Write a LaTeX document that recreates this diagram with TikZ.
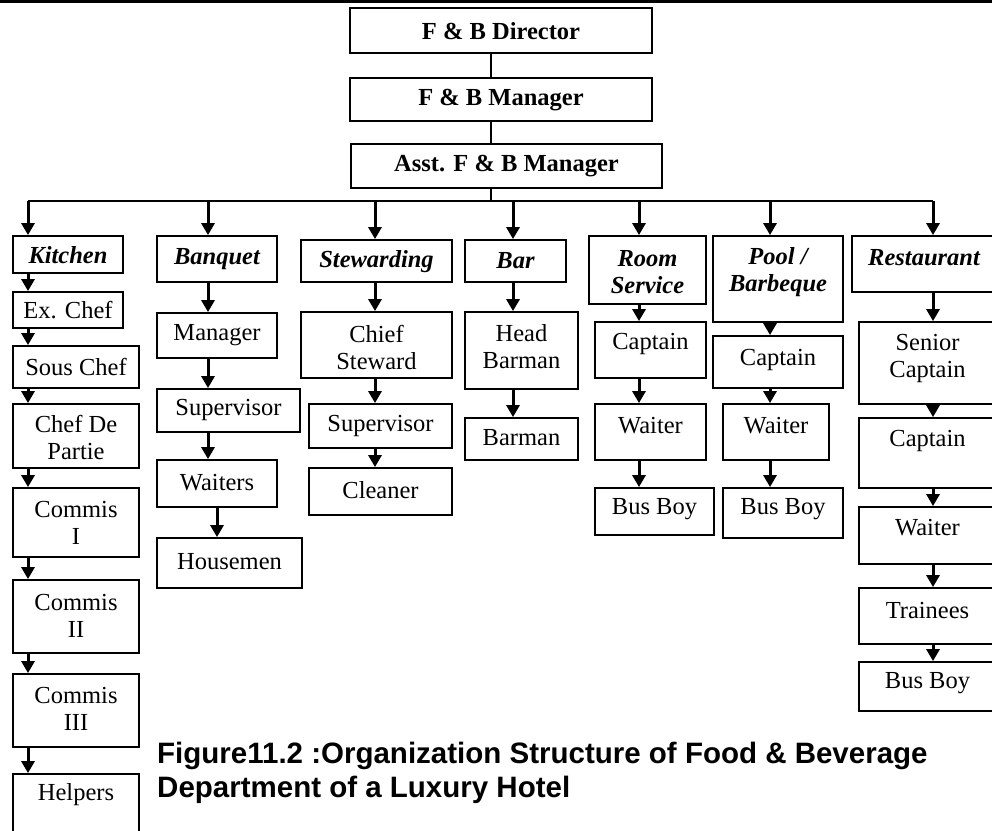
\documentclass[tikz,border=0pt]{standalone}
\usepackage{fontspec}
\setmainfont{Liberation Serif}
\newfontfamily\capfont{Liberation Sans}
\usetikzlibrary{arrows.meta}

% box with a separately placed label: [style]{name}{x1}{y1}{x2}{y2}{label y}{text}
\newcommand\obox[8][lbl]{%
  \node[box, minimum width={#5-#3}, minimum height={#6-#4}] (#2) at ({(#3+#5)/2},{(#4+#6)/2}) {};
  \node[#1] (#2-t) at ({(#3+#5)/2},#7) {#8};}

\tikzset{
  box/.style={draw, line width=1.8pt, inner sep=0pt},
  lbl/.style={inner sep=0pt, align=center, font=\fontsize{24.5}{27}\selectfont},
  dept/.style={lbl, font=\fontsize{24.5}{27}\selectfont\bfseries\itshape},
  chief/.style={lbl, font=\fontsize{24.5}{27}\selectfont\bfseries},
  arr/.style={line width=3pt, -{Triangle[length=12pt,width=13pt]}},
  thin/.style={line width=1.4pt},
  caption/.style={inner sep=0pt, anchor=base west, font=\capfont\bfseries\fontsize{29.5}{32}\selectfont}
}

\begin{document}
\begin{tikzpicture}[x=1pt,y=-1pt]
\useasboundingbox (0,0) rectangle (992,830);
\clip (0,0) rectangle (992,830);

% rule across the top
\draw[line width=3pt] (0,1.5) -- (992,1.5);

% top management
\obox[chief]{dir}{350}{8}{652}{53}{31}{F \& B Director}
\obox[chief]{mgr}{350}{78}{652}{121}{100}{F \& B Manager}
\obox[chief]{asst}{351}{144}{662}{188}{166}{Asst. F \& B Manager}

% drop points on the distribution line
\coordinate (trunk) at (491,201);
\coordinate (dK) at (28,201);
\coordinate (dB) at (208,201);
\coordinate (dS) at (375,201);
\coordinate (dBar) at (513,201);
\coordinate (dRS) at (639,201);
\coordinate (dP) at (770,201);
\coordinate (dR) at (933,201);
\coordinate (dH) at (217,201);

\draw[thin] (dir.south -| trunk) -- (mgr.north -| trunk);
\draw[thin] (mgr.south -| trunk) -- (asst.north -| trunk);
\draw[thin] (asst.south -| trunk) -- (trunk);
\draw[thin] (dK) -- (dR);

% Kitchen
\obox[dept]{kit}{13}{236}{123}{273}{255}{Kitchen}
\obox{exc}{13}{292}{123}{328}{310}{Ex. Chef}
\obox{sous}{13}{346}{139}{388}{367}{Sous Chef}
\obox{cdp}{13}{404}{139}{468}{437}{Chef De\\Partie}
\obox{comA}{13}{488}{139}{557}{523}{Commis\\I}
\obox{comB}{13}{580}{139}{653}{616}{Commis\\II}
\obox{comC}{13}{674}{139}{747}{709}{Commis\\III}
\obox{help}{13}{774}{139}{845}{795}{Helpers}
\draw[arr] (dK) -- (kit.north -| dK);
\draw[arr] (kit.south -| dK) -- (exc.north -| dK);
\draw[arr] (exc.south -| dK) -- (sous.north -| dK);
\draw[arr] (sous.south -| dK) -- (cdp.north -| dK);
\draw[arr] (cdp.south -| dK) -- (comA.north -| dK);
\draw[arr] (comA.south -| dK) -- (comB.north -| dK);
\draw[arr] (comB.south -| dK) -- (comC.north -| dK);
\draw[arr] (comC.south -| dK) -- (help.north -| dK);

% Banquet
\obox[dept]{banq}{157}{236}{277}{282}{259}{Banquet}
\obox{bman}{157}{313}{277}{358}{335}{Manager}
\obox{bsup}{157}{389}{300}{432}{410}{Supervisor}
\obox{bwait}{157}{460}{277}{507}{483}{Waiters}
\obox{bhouse}{157}{538}{302}{588}{562}{Housemen}
\draw[arr] (dB) -- (banq.north -| dB);
\draw[arr] (banq.south -| dB) -- (bman.north -| dB);
\draw[arr] (bman.south -| dB) -- (bsup.north -| dB);
\draw[arr] (bsup.south -| dB) -- (bwait.north -| dB);
\draw[arr] (bwait.south -| dH) -- (bhouse.north -| dH);

% Stewarding
\obox[dept]{stew}{301}{240}{452}{282}{262}{Stewarding}
\obox{chst}{301}{312}{452}{378}{347}{Chief\\Steward}
\obox{ssup}{309}{404}{452}{448}{426}{Supervisor}
\obox{clean}{309}{468}{452}{515}{490}{Cleaner}
\draw[arr] (dS) -- (stew.north -| dS);
\draw[arr] (stew.south -| dS) -- (chst.north -| dS);
\draw[arr] (chst.south -| dS) -- (ssup.north -| dS);
\draw[arr] (ssup.south -| dS) -- (clean.north -| dS);

% Bar
\obox[dept]{bar}{465}{240}{566}{282}{261}{Bar}
\obox{hbar}{465}{312}{578}{389}{347}{Head\\Barman}
\obox{barman}{465}{418}{578}{460}{438}{Barman}
\draw[arr] (dBar) -- (bar.north -| dBar);
\draw[arr] (bar.south -| dBar) -- (hbar.north -| dBar);
\draw[arr] (hbar.south -| dBar) -- (barman.north -| dBar);

% Room Service
\obox[dept]{room}{589}{236}{706}{304}{272}{Room\\Service}
\obox{rcap}{595}{322}{706}{378}{344}{Captain}
\obox{rwait}{595}{404}{706}{460}{426}{Waiter}
\obox{rbus}{595}{488}{714}{535}{509}{Bus Boy}
\draw[arr] (dRS) -- (room.north -| dRS);
\draw[arr] (room.south -| dRS) -- (rcap.north -| dRS);
\draw[arr] (rcap.south -| dRS) -- (rwait.north -| dRS);
\draw[arr] (rwait.south -| dRS) -- (rbus.north -| dRS);

% Pool / Barbeque
\obox[dept]{pool}{713}{236}{843}{322}{272}{Pool /\\Barbeque}
\obox{pcap}{713}{336}{843}{388}{360}{Captain}
\obox{pwait}{723}{404}{829}{460}{426}{Waiter}
\obox{pbus}{723}{488}{843}{538}{509}{Bus Boy}
\draw[arr] (dP) -- (pool.north -| dP);
\draw[arr] (pool.south -| dP) -- (pcap.north -| dP);
\draw[arr] (pcap.south -| dP) -- (pwait.north -| dP);
\draw[arr] (pwait.south -| dP) -- (pbus.north -| dP);

% Restaurant
\obox[dept]{rest}{852}{236}{996}{292}{258}{Restaurant}
\obox{scap}{859}{322}{996}{404}{358}{Senior\\Captain}
\obox{rscap}{859}{418}{996}{488}{441}{Captain}
\obox{rsw}{859}{507}{996}{564}{528}{Waiter}
\obox{train}{859}{588}{996}{644}{610}{Trainees}
\obox{rsbus}{859}{662}{996}{711}{683}{Bus Boy}
\draw[arr] (dR) -- (rest.north -| dR);
\draw[arr] (rest.south -| dR) -- (scap.north -| dR);
\draw[arr] (scap.south -| dR) -- (rscap.north -| dR);
\draw[arr] (rscap.south -| dR) -- (rsw.north -| dR);
\draw[arr] (rsw.south -| dR) -- (train.north -| dR);
\draw[arr] (train.south -| dR) -- (rsbus.north -| dR);

% caption
\node[caption] (capA) at (157,763) {Figure11.2 :Organization Structure of Food \& Beverage};
\node[caption] (capB) at (157,797) {Department of a Luxury Hotel};
\end{tikzpicture}
\end{document}
